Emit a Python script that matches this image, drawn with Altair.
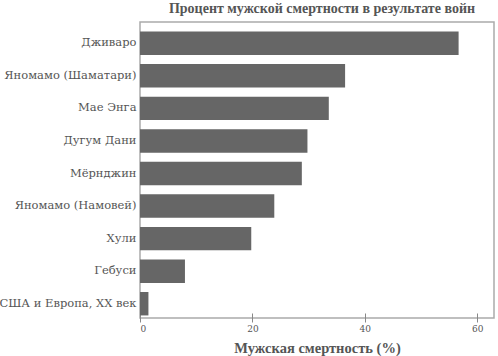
import altair as alt
import pandas as pd

groups = ["Дживаро", "Яномамо (Шаматари)", "Мае Энга", "Дугум Дани", "Мёрнджин",
          "Яномамо (Намовей)", "Хули", "Гебуси", "США и Европа, XX век"]
mortality = [56.7, 36.5, 33.6, 29.8, 28.8, 23.9, 19.8, 8.0, 1.5]
x_ticks = [0, 20, 40, 60]

df = pd.DataFrame({"group": groups, "value": mortality})

FONT = "DejaVu Serif"
TFONT = "Liberation Serif"

chart = alt.Chart(df).mark_bar(color="#666666").encode(
    x=alt.X("value:Q",
            scale=alt.Scale(domain=[0, 63], nice=False, zero=True),
            axis=alt.Axis(values=x_ticks, title="Мужская смертность (%)", grid=False,
                          domain=False, offset=-5, tickSize=9, tickColor="#888888",
                          tickWidth=1, labelFont=FONT, labelFontSize=9, labelColor="#555555",
                          labelPadding=2, titleFont=TFONT, titleFontSize=14.5,
                          titleFontWeight="bold", titleColor="#555555", titlePadding=8)),
    y=alt.Y("group:N", sort=groups,
            scale=alt.Scale(range=[5, 298], paddingInner=0.28, paddingOuter=0.14),
            axis=alt.Axis(title=None, domain=False, ticks=False, labelFont=FONT,
                          labelFontSize=11.5, labelColor="#555555", labelPadding=4,
                          labelLimit=200)),
).properties(
    width=354,
    height=296,
    title=alt.TitleParams("Процент мужской смертности в результате войн", font=TFONT,
                          fontSize=14, fontWeight="bold", color="#555555",
                          anchor="middle", offset=6, dx=5),
    autosize=alt.AutoSizeParams(type="none"),
    padding={"left": 140, "top": 22, "right": 4, "bottom": 38},
).configure_view(stroke="#aaaaaa", strokeWidth=1.5)

chart.save("out.html", embed_options={"renderer": "svg", "actions": False})
